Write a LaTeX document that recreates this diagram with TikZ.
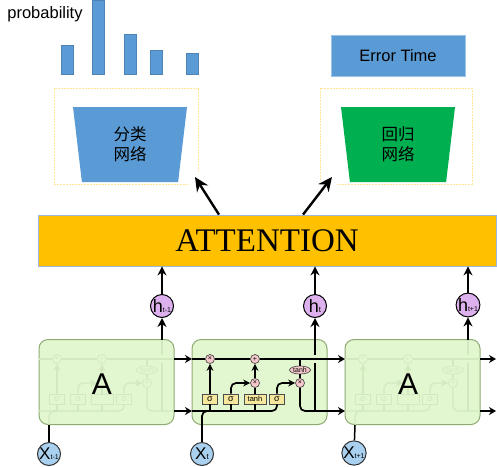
\documentclass[tikz,border=0pt]{standalone}
\usepackage{fontspec}
\setmainfont{Liberation Sans}
\newfontfamily\cjk{Noto Sans CJK SC}
\newfontfamily\attnfont{Liberation Serif}
\usetikzlibrary{shapes.geometric, arrows.meta}
\newcommand{\pxfont}[1]{\fontsize{#1}{#1}\selectfont}
\definecolor{barblue}{HTML}{5B9BD5}
\definecolor{netgreen}{HTML}{00B050}
\definecolor{attnorange}{HTML}{FFC000}
\definecolor{attnedge}{HTML}{9DB7DC}
\definecolor{cellgreen}{HTML}{E2F6D0}
\definecolor{celledge}{HTML}{8DAA72}
\definecolor{fadeline}{HTML}{D2E9C0}
\definecolor{dashyellow}{HTML}{FFE699}
\definecolor{hlilac}{HTML}{DDB0EE}
\definecolor{xblue}{HTML}{A9D0EE}
\definecolor{gateyellow}{HTML}{F5E79B}
\definecolor{gatepink}{HTML}{F6C9CC}
\tikzstyle{bigarrow} = [line width=2.4pt,-{Stealth[length=14pt,width=13pt]}]
\tikzstyle{arrow} = [line width=1.6pt,-{Stealth[length=9pt,width=9pt]}]
\tikzstyle{stub} = [line width=1.6pt,-{Stealth[length=7pt,width=8pt]}]
\tikzstyle{bar} = [rectangle, fill=barblue, draw=barblue!85!black, line width=0.4pt, minimum width=12, inner sep=0, anchor=south]
\tikzstyle{dashbox} = [line width=1pt, draw=dashyellow, dash pattern=on 2pt off 1pt]
\tikzstyle{net} = [trapezium, trapezium stretches body, trapezium angle=75.8, shape border rotate=180, minimum width=114, minimum height=75, inner sep=0, align=center, font=\cjk\fontsize{16.5}{20}\selectfont, text=black]
\tikzstyle{cellbox} = [rectangle, rounded corners=9pt, fill=cellgreen, draw=celledge, line width=1pt, minimum width=135, minimum height=85, inner sep=0]
\tikzstyle{hstate} = [circle, fill=hlilac, draw=black, line width=1pt, minimum size=23, inner sep=0, font=\pxfont{18}]
\tikzstyle{xinput} = [circle, fill=xblue, draw=black!80, line width=1pt, minimum size=23, inner sep=0, font=\pxfont{17}]
\tikzstyle{lettera} = [font=\pxfont{30}, inner sep=0]
\tikzset{
	fadedcell/.style={
		wire/.style={draw=fadeline, line width=1.2pt},
		wiretip/.style={draw=fadeline, line width=1.2pt, -{Stealth[length=7pt,width=7pt]}},
		gatebox/.style={rectangle, fill=cellgreen, draw=fadeline, line width=0.7pt, minimum width=15, minimum height=10, inner sep=0, text=fadeline, font=\pxfont{9}},
		gatedot/.style={circle, fill=cellgreen, draw=fadeline, line width=0.7pt, minimum size=9, inner sep=0, text=fadeline, font=\pxfont{7}},
		gateoval/.style={ellipse, fill=cellgreen, draw=fadeline, line width=0.7pt, minimum width=21, minimum height=8, inner sep=0, text=fadeline, font=\pxfont{7}}},
	brightcell/.style={
		wire/.style={draw=black, line width=1.7pt},
		wiretip/.style={draw=black, line width=1.7pt, -{Stealth[length=7pt,width=7pt]}},
		gatebox/.style={rectangle, fill=gateyellow, draw=black!70, line width=0.7pt, minimum width=15, minimum height=10, inner sep=0, text=black, font=\pxfont{9}},
		gatedot/.style={circle, fill=gatepink, draw=black!70, line width=0.7pt, minimum size=9, inner sep=0, text=black, font=\pxfont{7}},
		gateoval/.style={ellipse, fill=gatepink, draw=black!70, line width=0.7pt, minimum width=21, minimum height=8, inner sep=0, text=black, font=\pxfont{7}}}
}
\newcommand{\lstmcell}[5]{
	\begin{scope}[shift={(#1,0)}, name prefix=#2-, #3]
		\node[cellbox] (box) at (67.5,382) {};
		\coordinate (topin) at (0,359);
		\coordinate (topout) at (135,359);
		\coordinate (lowin) at (0,411);
		\coordinate (lowout) at (135,411);
		\coordinate (inp) at (10,425);
		\coordinate (outlow) at (123,411);
		\coordinate (outtop) at (123,340);
		\node[gatebox] (sa) at (18,399) {σ};
		\node[gatebox] (sb) at (39,399) {σ};
		\node[gatebox, minimum width=22, font=\pxfont{7.5}] (tb) at (63,399) {#4};
		\node[gatebox] (sc) at (85,399) {σ};
		\node[gatedot] (ma) at (18,359) {×};
		\node[gatedot] (pa) at (63,359) {+};
		\node[gatedot] (mb) at (63,383) {#5};
		\node[gatedot] (mc) at (108,383) {×};
		\node[gateoval] (te) at (108,370) {tanh};
		\draw[wire] (topin) -- (ma);
		\draw[wire] (ma) -- (pa);
		\draw[wire] (pa) -- (topout);
		\draw[wire, rounded corners=5pt] (lowin) -| (sc.south);
		\draw[wire] (sa |- lowin) -- (sa);
		\draw[wire] (sb |- lowin) -- (sb);
		\draw[wire] (tb |- lowin) -- (tb);
		\draw[wire, rounded corners=5pt] (inp) |- (sa |- lowin);
		\draw[wiretip] (sa) -- (ma);
		\draw[wiretip, rounded corners=5pt] (sb.north) |- (mb.west);
		\draw[wire] (tb) -- (mb);
		\draw[wiretip] (mb) -- (pa);
		\draw[wiretip, rounded corners=5pt] (sc.north) |- (mc.west);
		\draw[wire] (te) -- (te |- topin);
		\draw[wire] (te) -- (mc);
		\draw[wire, rounded corners=5pt] (mc.south) |- (lowout);
		\draw[wire] (outlow) -- (123,363);
		\draw[wire] (123,355) -- (outtop);
	\end{scope}
}

\begin{document}
\begin{tikzpicture}[x=1pt, y=-1pt]
	\useasboundingbox (0,0) rectangle (497,466);

	\node[font=\pxfont{16.5}, inner sep=0] (problabel) at (45,14) {probability};
	\node[bar, minimum height=29] (bara) at (67,74) {};
	\node[bar, minimum height=74] (barb) at (98.5,74) {};
	\node[bar, minimum height=40] (barc) at (130,74) {};
	\node[bar, minimum height=24] (bard) at (156,74) {};
	\node[bar, minimum height=21] (bare) at (192,74) {};
	\node[rectangle, fill=barblue, draw=barblue!60, line width=0.6pt, minimum width=134, minimum height=41, inner sep=0, font=\pxfont{16.5}] (errortime) at (398,55.5) {Error Time};

	\draw[dashbox] (198,172) -- (198,88) -- (54,88) -- (54,184) -- (189,184);
	\draw[dashbox] (320,180) -- (320,88) -- (472,88) -- (472,184) -- (337,184);
	\node[net, fill=barblue] (classnet) at (130,144.5) {分类\\网络};
	\node[net, fill=netgreen] (regnet) at (398,144.5) {回归\\网络};

	\node[rectangle, fill=attnorange, draw=attnedge, line width=0.8pt, minimum width=458, minimum height=51, inner sep=0, font=\attnfont\pxfont{33}] (attention) at (267,240.5) {ATTENTION};
	\coordinate (classtip) at (195,177);
	\coordinate (regtip) at (332,177);
	\draw[bigarrow] (attention.north -| 219,0) -- (classtip);
	\draw[bigarrow] (attention.north -| 303,0) -- (regtip);

	\lstmcell{39}{left}{fadedcell}{}{}
	\lstmcell{192}{mid}{brightcell}{tanh}{×}
	\lstmcell{345}{right}{fadedcell}{}{}
	\node[lettera] (lefta) at (102,384) {A};
	\node[lettera] (righta) at (408,384) {A};

	\node[hstate] (hleft) at (162,306) {h{\pxfont{7}t-1}};
	\node[hstate] (hmid) at (315,306) {h{\pxfont{8}t}};
	\node[hstate] (hright) at (468,305) {h{\pxfont{7}t+1}};
	\node[xinput] (xleft) at (49,454) {X{\pxfont{7}t-1}};
	\node[xinput] (xmid) at (202,454) {X{\pxfont{8}t}};
	\node[xinput] (xright) at (354,453) {X{\pxfont{7}t+1}};

	\draw[arrow] (left-outtop) -- (hleft);
	\draw[arrow] (mid-outtop) -- (hmid);
	\draw[arrow] (right-outtop) -- (hright);
	\draw[arrow] (hleft) -- (hleft |- attention.south);
	\draw[arrow] (hmid) -- (hmid |- attention.south);
	\draw[arrow] (hright) -- (hright |- attention.south);
	\draw[line width=1.5pt] (xleft) -- (left-inp);
	\draw[line width=1.5pt] (xmid) -- (mid-inp);
	\draw[line width=1.5pt] (xright) -- (right-inp);

	\draw[stub] (left-topout) -- (mid-topin);
	\draw[stub] (left-lowout) -- (mid-lowin);
	\draw[stub] (mid-topout) -- (right-topin);
	\draw[stub] (mid-lowout) -- (right-lowin);
	\coordinate (endtop) at (496,359);
	\coordinate (endlow) at (496,411);
	\draw[stub] (right-topout) -- (endtop);
	\draw[stub] (right-lowout) -- (endlow);
\end{tikzpicture}
\end{document}
